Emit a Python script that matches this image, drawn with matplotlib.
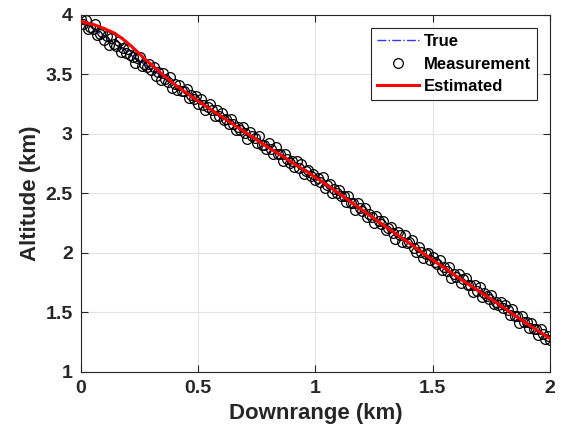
import numpy as np
import matplotlib
matplotlib.use("Agg")
import matplotlib.pyplot as plt

# ---------------- data ----------------
# true trajectory (km)
true_x = [0.0, 0.1, 0.2, 0.3, 0.4, 0.5, 0.6, 0.7, 0.8, 0.9, 1.0,
          1.1, 1.2, 1.3, 1.4, 1.5, 1.6, 1.7, 1.8, 1.9, 2.0]
true_y = [3.96, 3.82, 3.68, 3.545, 3.41, 3.275, 3.145, 3.015, 2.885, 2.76, 2.635,
          2.50, 2.36, 2.22, 2.08, 1.94, 1.805, 1.675, 1.545, 1.41, 1.28]

# measurements: sampled every 0.01 km of downrange
meas_x = np.linspace(0.0, 2.0, 201)
meas_y = [
    3.97, 3.92, 3.96, 3.88, 3.90, 3.88, 3.92, 3.83, 3.84, 3.86,
    3.79, 3.82, 3.75, 3.81, 3.76, 3.74, 3.78, 3.69, 3.72, 3.68,
    3.71, 3.66, 3.65, 3.60, 3.64, 3.65, 3.57, 3.59, 3.56, 3.59,
    3.54, 3.56, 3.49, 3.52, 3.45, 3.51, 3.46, 3.44, 3.48, 3.39,
    3.42, 3.37, 3.41, 3.36, 3.36, 3.38, 3.30, 3.33, 3.29, 3.32,
    3.25, 3.29, 3.24, 3.20, 3.23, 3.25, 3.20, 3.15, 3.20, 3.15,
    3.18, 3.12, 3.13, 3.08, 3.13, 3.08, 3.03, 3.06, 3.03, 3.06,
    3.01, 2.96, 3.02, 2.98, 2.97, 2.92, 2.98, 2.91, 2.91, 2.87,
    2.92, 2.87, 2.83, 2.89, 2.83, 2.83, 2.77, 2.83, 2.79, 2.76,
    2.77, 2.72, 2.77, 2.71, 2.75, 2.66, 2.69, 2.70, 2.65, 2.66,
    2.61, 2.63, 2.60, 2.64, 2.55, 2.57, 2.58, 2.50, 2.54, 2.50,
    2.53, 2.48, 2.48, 2.43, 2.48, 2.42, 2.42, 2.36, 2.42, 2.38,
    2.35, 2.38, 2.30, 2.33, 2.30, 2.25, 2.31, 2.27, 2.24, 2.27,
    2.19, 2.21, 2.22, 2.17, 2.12, 2.18, 2.15, 2.09, 2.15, 2.08,
    2.09, 2.11, 2.04, 2.01, 2.05, 2.01, 1.96, 1.99, 2.00, 1.94,
    1.97, 1.92, 1.91, 1.94, 1.86, 1.88, 1.85, 1.88, 1.79, 1.82,
    1.80, 1.82, 1.75, 1.78, 1.79, 1.73, 1.73, 1.67, 1.73, 1.68,
    1.71, 1.63, 1.66, 1.64, 1.61, 1.65, 1.57, 1.59, 1.56, 1.59,
    1.54, 1.56, 1.52, 1.48, 1.53, 1.47, 1.47, 1.41, 1.47, 1.42,
    1.42, 1.37, 1.41, 1.36, 1.36, 1.31, 1.36, 1.32, 1.28, 1.30,
    1.27,
]

# filter estimate
est_x = [0.0, 0.03, 0.06, 0.10, 0.145, 0.19, 0.23, 0.27, 0.31, 0.36, 0.40,
         0.45, 0.50, 0.55, 0.60, 0.65, 0.70, 0.75, 0.80, 0.85, 0.90, 0.95,
         1.00, 1.05, 1.10, 1.15, 1.20, 1.25, 1.30, 1.35, 1.40, 1.45, 1.50,
         1.55, 1.60, 1.65, 1.70, 1.75, 1.80, 1.85, 1.90, 1.95, 2.00]
est_y = [3.945, 3.93, 3.915, 3.885, 3.845, 3.78, 3.71, 3.635, 3.565, 3.48, 3.415,
         3.345, 3.275, 3.21, 3.145, 3.08, 3.015, 2.95, 2.885, 2.825, 2.76, 2.70,
         2.635, 2.57, 2.50, 2.43, 2.36, 2.29, 2.22, 2.15, 2.085, 2.01, 1.94,
         1.875, 1.805, 1.74, 1.675, 1.61, 1.545, 1.475, 1.41, 1.345, 1.28]

x_ticks = [0, 0.5, 1, 1.5, 2]
x_ticklabels = ["0", "0.5", "1", "1.5", "2"]
y_ticks = [1, 1.5, 2, 2.5, 3, 3.5, 4]
y_ticklabels = ["1", "1.5", "2", "2.5", "3", "3.5", "4"]

# ---------------- plot ----------------
plt.rcParams['font.family'] = ['Liberation Sans', 'DejaVu Sans']
plt.rcParams['font.weight'] = 'bold'

fig = plt.figure(figsize=(5.66, 4.34), dpi=100)
ax = fig.add_axes([0.1431, 0.1429, 0.8286, 0.8226])

axc = '#262626'
ax.plot(true_x, true_y, color=(0.2, 0.2, 1.0), linestyle='-.', lw=1.0,
        label='True', zorder=1.5)
ax.plot(meas_x, meas_y, linestyle='none', marker='o', markersize=7,
        markerfacecolor='none', markeredgecolor='black', markeredgewidth=0.9,
        label='Measurement', zorder=2)
ax.plot(est_x, est_y, color='red', lw=2.2, label='Estimated', zorder=4)

ax.set_xlim(0, 2)
ax.set_ylim(1, 4)
ax.set_xticks(x_ticks)
ax.set_xticklabels(x_ticklabels)
ax.set_yticks(y_ticks)
ax.set_yticklabels(y_ticklabels)

ax.grid(True, color='#e3e3e3', lw=0.8)
ax.set_axisbelow(True)
for s in ax.spines.values():
    s.set_color(axc)
    s.set_linewidth(0.8)
ax.tick_params(direction='in', length=5, width=0.8, colors=axc,
               labelsize=14, top=True, right=True, pad=6)
for lbl in ax.get_xticklabels() + ax.get_yticklabels():
    lbl.set_fontweight('bold')

ax.set_xlabel('Downrange (km)', fontsize=16, fontweight='bold', color=axc, labelpad=4)
ax.set_ylabel('Altitude (km)', fontsize=16, fontweight='bold', color=axc, labelpad=3)

leg = ax.legend(loc='upper right', fontsize=12, frameon=True, fancybox=False,
                edgecolor=axc, framealpha=1, handlelength=2.5, handletextpad=0.3,
                borderpad=0.35, labelspacing=0.45, borderaxespad=0.8)
leg.get_frame().set_linewidth(0.8)
for t in leg.get_texts():
    t.set_fontweight('bold')

fig.savefig('out.png', dpi=100)
